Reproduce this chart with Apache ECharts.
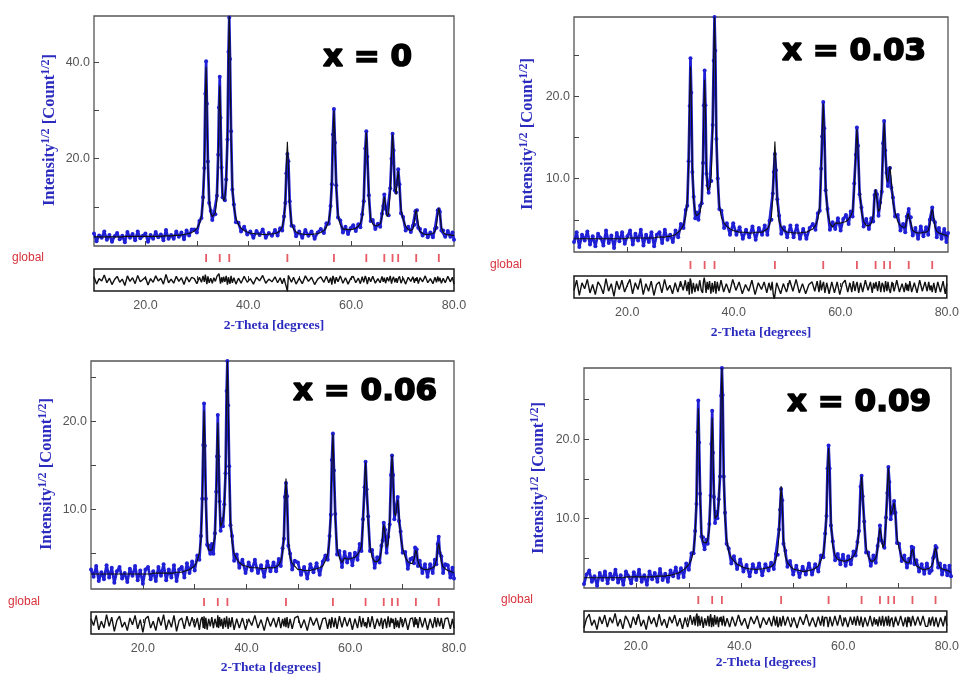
<!DOCTYPE html>
<html>
<head>
<meta charset="utf-8">
<title>Rietveld refinement – Zn(1-x) doped series</title>
<script src="https://cdn.jsdelivr.net/npm/echarts@6/dist/echarts.min.js"></script>
<style>
  html, body { margin: 0; padding: 0; background: #ffffff; }
  #chart { width: 962px; height: 676px; }
</style>
</head>
<body>
<div id="chart"></div>
<script>
// 2-theta sampling grid (degrees), finer across the reflections
const twoTheta = [
  10, 10.5, 11, 11.5, 12, 12.5, 13, 13.5, 14, 14.5, 15, 15.5, 16, 16.5, 17, 17.5, 18, 18.5, 19, 19.5,
  20, 20.5, 21, 21.5, 22, 22.5, 23, 23.5, 24, 24.5, 25, 25.5, 26, 26.5, 27, 27.5, 28, 28.5, 29,
  29.5, 30, 30.5, 30.9, 31.2, 31.45, 31.65, 31.8, 31.95, 32.15, 32.4, 32.7, 33, 33.3, 33.6, 33.9, 34.15, 34.3,
  34.45, 34.6, 34.8, 35, 35.2, 35.45, 35.7, 35.95, 36.15, 36.3, 36.45, 36.65, 36.9, 37.2, 37.6, 38.1, 38.6,
  39.2, 39.8, 40.4, 41, 41.6, 42.2, 42.8, 43.4, 44, 44.6, 45.2,
  45.7, 46.2, 46.6, 46.95, 47.2, 47.4, 47.6, 47.8, 48.05, 48.4, 48.8, 49.3,
  49.9, 50.5, 51.1, 51.7, 52.3, 52.9, 53.5, 54.1, 54.7,
  55.2, 55.65, 56, 56.25, 56.45, 56.65, 56.85, 57.1, 57.45, 57.9, 58.4,
  58.9, 59.4, 59.9, 60.4, 60.9, 61.4, 61.8,
  62.15, 62.45, 62.75, 62.95, 63.15, 63.45, 63.8, 64.2, 64.7, 65.2,
  65.65, 66, 66.25, 66.45, 66.7, 67, 67.3, 67.6, 67.85, 68.05, 68.25, 68.5, 68.75, 68.95, 69.15, 69.4, 69.7, 70.1, 70.6, 71.1, 71.6,
  72, 72.3, 72.5, 72.65, 72.8, 73.05, 73.4, 73.9,
  74.4, 74.9, 75.4, 75.9,
  76.3, 76.6, 76.85, 77.05, 77.25, 77.55, 77.9, 78.3,
  78.8, 79.3, 79.7, 80
];

// Bragg reflection positions of the refined phase
const reflections = [31.8, 34.45, 36.3, 47.6, 56.65, 62.95, 66.45, 68.05, 69.15, 72.65, 77.05];

const compositions = ['x = 0', 'x = 0.03', 'x = 0.06', 'x = 0.09'];

// Intensity^1/2 : observed points and calculated profile, x = 0
const obsX0 = [
  4.5, 2.9, 4.1, 3.6, 4.9, 3.2, 4.2, 2.8, 3.9, 4.6, 3.3, 4.0, 2.7, 4.8, 3.6, 4.4, 3.1, 4.9, 3.5, 4.0,
  4.5, 2.8, 4.2, 3.4, 4.8, 3.7, 4.3, 3.1, 5.2, 3.4, 4.2, 3.4, 4.9, 3.8, 4.7, 3.3, 5.1, 4.1, 5.3,
  5.3, 4.7, 7.1, 7.7, 12.0, 18.1, 33.5, 40.2, 31.4, 19.4, 10.8, 9.2, 7.3, 8.5, 8.5, 12.3, 20.8, 30.6,
  37.0, 28.5, 18.2, 12.0, 12.0, 11.4, 15.7, 24.0, 42.2, 49.3, 40.7, 25.7, 13.6, 10.5, 6.8, 6.7, 4.9,
  5.9, 4.3, 4.9, 3.6, 5.0, 4.2, 5.3, 3.6, 4.6, 4.0, 5.2,
  4.1, 5.6, 5.1, 8.0, 10.8, 17.0, 21.0, 19.5, 11.2, 6.1, 6.0, 3.9,
  4.9, 3.6, 5.2, 4.0, 4.9, 3.4, 4.7, 5.4, 4.6,
  6.6, 6.5, 10.2, 14.7, 25.0, 30.3, 23.3, 14.5, 7.8, 7.2, 4.7,
  5.9, 4.4, 5.6, 6.2, 5.0, 6.4, 5.8,
  8.5, 11.2, 22.1, 25.7, 20.4, 12.4, 7.1, 7.3, 5.4, 6.5,
  5.9, 8.6, 10.2, 12.6, 9.6, 8.6, 8.3, 13.9, 20.0, 25.2, 21.7, 13.4, 13.0, 14.9, 17.8, 14.7, 8.7, 7.9, 5.1, 5.9, 4.8,
  6.1, 6.3, 9.1, 9.2, 9.3, 5.7, 5.4, 4.1,
  5.2, 3.7, 4.7, 3.7,
  5.5, 5.7, 9.3, 9.5, 9.0, 5.1, 5.1, 3.8,
  5.0, 3.8, 4.7, 3.2
];
const calcX0 = [
  3.8, 3.8, 3.8, 3.8, 3.8, 3.8, 3.8, 3.8, 3.8, 3.8, 3.8, 3.8, 3.9, 3.9, 3.9, 3.9, 3.9, 3.9, 3.9, 3.9,
  3.9, 3.9, 3.9, 3.9, 3.9, 3.9, 3.9, 4.0, 4.0, 4.0, 4.0, 4.1, 4.1, 4.1, 4.2, 4.3, 4.4, 4.5, 4.7,
  5.0, 5.5, 6.5, 8.2, 11.1, 18.5, 32.3, 39.0, 32.3, 18.6, 11.4, 8.8, 8.0, 8.0, 8.8, 11.5, 19.8, 29.2,
  35.2, 29.3, 17.6, 12.5, 11.3, 11.8, 14.8, 25.0, 41.6, 49.6, 41.5, 24.8, 14.2, 10.0, 7.7, 6.3, 5.6,
  5.1, 4.8, 4.6, 4.5, 4.4, 4.4, 4.3, 4.3, 4.4, 4.4, 4.5,
  4.7, 5.1, 5.9, 7.6, 11.5, 18.5, 23.5, 18.5, 10.4, 6.6, 5.4, 4.8,
  4.5, 4.4, 4.3, 4.3, 4.3, 4.4, 4.5, 4.7, 5.1,
  5.8, 7.1, 9.7, 15.7, 24.1, 30.0, 24.1, 13.9, 8.2, 6.3, 5.4,
  5.4, 5.3, 5.3, 5.4, 5.6, 6.0, 6.6,
  7.8, 11.7, 21.2, 25.5, 21.3, 11.8, 7.5, 6.5, 6.1, 6.2,
  6.5, 7.8, 10.6, 12.1, 10.3, 8.0, 8.6, 13.0, 20.8, 25.0, 21.0, 13.9, 12.6, 15.5, 17.5, 13.9, 9.4, 7.4, 6.0, 5.3, 5.1,
  5.4, 6.9, 8.7, 9.4, 8.7, 6.5, 4.9, 4.5,
  4.3, 4.3, 4.4, 4.5,
  4.9, 6.2, 8.5, 9.8, 8.5, 5.8, 4.7, 4.4,
  4.2, 4.2, 4.1, 4.1
];

// x = 0.03
const obsX003 = [
  2.3, 3.5, 1.7, 3.2, 2.5, 3.6, 2.0, 3.0, 1.8, 3.3, 2.8, 1.9, 3.7, 2.2, 3.1, 1.6, 3.4, 2.4, 3.5, 2.1,
  3.0, 3.7, 2.0, 3.3, 2.5, 3.8, 1.9, 3.2, 2.3, 3.5, 1.8, 3.2, 3.5, 2.2, 3.8, 2.6, 3.2, 2.3, 3.7,
  2.9, 4.5, 4.0, 6.2, 6.7, 12.1, 18.8, 24.6, 20.4, 10.8, 7.8, 5.2, 5.9, 5.0, 6.7, 7.0, 11.9, 18.9,
  23.1, 18.9, 10.6, 9.2, 8.3, 9.7, 9.7, 16.5, 24.3, 29.6, 25.5, 14.8, 10.0, 6.3, 6.1, 4.0, 4.6,
  3.2, 4.6, 3.2, 4.1, 2.7, 3.8, 2.9, 4.2, 2.6, 4.0, 3.2,
  4.3, 3.2, 4.9, 5.0, 8.2, 10.8, 13.0, 11.0, 7.5, 5.5, 3.3, 4.1,
  2.9, 4.3, 2.9, 4.3, 2.7, 3.9, 2.7, 4.0, 4.5,
  3.8, 5.8, 6.1, 11.2, 15.1, 19.3, 16.1, 8.6, 6.3, 3.8, 4.7,
  3.9, 5.2, 3.7, 5.1, 5.6, 4.5, 6.0,
  5.4, 9.4, 12.9, 16.2, 14.0, 8.1, 6.5, 4.2, 5.1, 3.9,
  5.2, 4.8, 8.0, 8.5, 8.1, 5.5, 7.1, 8.4, 14.3, 17.0, 13.4, 10.7, 9.1, 11.2, 11.3, 8.9, 7.7, 5.4, 5.6, 3.7, 4.5,
  3.5, 5.4, 5.4, 6.3, 5.3, 5.3, 3.1, 4.0,
  2.7, 4.2, 3.0, 4.1,
  3.2, 5.0, 5.2, 6.5, 5.0, 4.7, 2.9, 4.0,
  2.7, 3.9, 2.3, 3.4
];
const calcX003 = [
  2.7, 2.7, 2.7, 2.7, 2.7, 2.7, 2.7, 2.7, 2.7, 2.7, 2.7, 2.7, 2.7, 2.7, 2.7, 2.7, 2.7, 2.7, 2.7, 2.7,
  2.8, 2.8, 2.8, 2.8, 2.8, 2.8, 2.8, 2.8, 2.8, 2.8, 2.8, 2.9, 2.9, 2.9, 2.9, 3.0, 3.0, 3.1, 3.2,
  3.5, 3.8, 4.4, 5.4, 7.2, 11.5, 19.7, 23.6, 19.7, 11.6, 7.3, 5.8, 5.5, 5.5, 5.9, 7.4, 12.6, 18.3,
  22.0, 18.4, 11.3, 8.6, 8.6, 9.0, 10.5, 16.0, 24.9, 29.6, 24.8, 15.6, 9.4, 6.8, 5.3, 4.6, 4.2,
  3.9, 3.7, 3.6, 3.5, 3.5, 3.5, 3.4, 3.4, 3.5, 3.5, 3.5,
  3.7, 3.9, 4.4, 5.4, 7.6, 11.6, 14.5, 11.6, 7.0, 4.8, 4.1, 3.7,
  3.5, 3.5, 3.4, 3.4, 3.4, 3.5, 3.5, 3.7, 3.9,
  4.3, 5.1, 6.7, 10.4, 15.5, 19.1, 15.5, 9.3, 5.8, 4.6, 4.1,
  4.6, 4.6, 4.6, 4.7, 4.8, 5.1, 5.5,
  6.0, 8.7, 13.4, 16.0, 13.4, 8.8, 6.0, 4.8, 4.3, 4.3,
  4.6, 5.5, 7.5, 8.7, 7.5, 6.0, 6.4, 9.0, 13.8, 16.8, 14.0, 10.0, 9.6, 10.6, 11.5, 9.6, 7.1, 5.9, 4.8, 4.3, 4.1,
  4.1, 4.9, 5.8, 6.0, 5.8, 4.6, 3.7, 3.5,
  3.4, 3.4, 3.5, 3.5,
  3.7, 4.4, 5.6, 6.3, 5.6, 4.2, 3.6, 3.4,
  3.3, 3.2, 3.1, 3.0
];

// x = 0.06
const obsX006 = [
  3.2, 2.4, 3.6, 1.9, 2.9, 2.1, 3.7, 2.3, 3.4, 1.7, 3.0, 3.5, 2.2, 2.8, 1.8, 3.3, 2.5, 3.6, 2.0, 3.1,
  1.6, 3.2, 3.5, 2.1, 3.0, 1.9, 3.5, 2.5, 3.8, 2.0, 3.2, 2.3, 3.7, 1.9, 3.2, 3.5, 2.3, 3.9, 2.8,
  4.1, 3.1, 4.8, 4.3, 7.0, 11.2, 17.3, 22.0, 17.2, 11.2, 6.0, 5.9, 5.0, 6.1, 5.0, 7.3, 12.0, 16.0,
  20.7, 16.0, 10.9, 7.6, 8.9, 8.1, 10.6, 14.1, 23.4, 26.8, 21.8, 14.9, 8.2, 7.0, 4.2, 4.9, 3.4,
  4.3, 2.8, 4.0, 3.1, 4.3, 2.8, 3.7, 2.4, 4.1, 3.0, 4.0,
  3.0, 4.4, 3.6, 5.6, 6.7, 11.4, 13.0, 11.5, 5.9, 5.0, 3.2, 4.2,
  4.0, 2.6, 3.5, 2.2, 3.8, 2.9, 3.9, 2.6, 4.1,
  4.8, 4.3, 7.0, 9.4, 15.6, 18.6, 14.4, 9.5, 4.9, 5.3, 3.5,
  5.2, 4.0, 5.0, 3.7, 5.1, 4.3, 6.1,
  5.3, 8.9, 12.5, 15.4, 12.3, 9.2, 5.3, 5.4, 3.4, 4.6,
  4.0, 5.9, 6.5, 8.5, 7.7, 5.1, 6.9, 8.3, 13.9, 16.1, 13.9, 8.9, 9.9, 9.8, 11.4, 8.7, 7.5, 5.1, 5.2, 3.3, 4.4,
  4.5, 3.9, 5.7, 5.2, 5.5, 3.6, 4.2, 2.8,
  3.8, 2.4, 3.8, 2.8,
  4.3, 3.8, 6.1, 6.9, 5.1, 4.7, 2.8, 3.8,
  3.7, 2.3, 3.4, 2.2
];
const calcX006 = [
  2.7, 2.7, 2.7, 2.7, 2.7, 2.7, 2.7, 2.7, 2.7, 2.7, 2.7, 2.7, 2.7, 2.7, 2.7, 2.7, 2.7, 2.7, 2.7, 2.7,
  2.7, 2.7, 2.7, 2.7, 2.8, 2.8, 2.8, 2.8, 2.8, 2.8, 2.8, 2.8, 2.8, 2.9, 2.9, 2.9, 3.0, 3.1, 3.2,
  3.4, 3.6, 4.2, 5.1, 6.6, 10.5, 17.9, 21.2, 17.9, 10.6, 6.8, 5.4, 5.4, 5.4, 5.6, 6.8, 11.4, 16.5,
  19.8, 16.6, 10.2, 8.0, 8.4, 8.8, 10.0, 14.6, 22.6, 26.8, 22.5, 14.3, 8.7, 6.3, 5.0, 4.4, 4.0,
  3.7, 3.6, 3.5, 3.4, 3.4, 3.4, 3.3, 3.3, 3.4, 3.4, 3.4,
  3.5, 3.7, 4.2, 5.1, 7.1, 10.8, 13.5, 10.8, 6.5, 4.5, 3.9, 3.6,
  3.2, 3.2, 3.1, 3.1, 3.1, 3.2, 3.3, 3.4, 3.6,
  4.2, 5.0, 6.5, 10.0, 14.9, 18.5, 14.9, 8.9, 5.6, 4.5, 4.0,
  4.5, 4.4, 4.4, 4.5, 4.6, 4.9, 5.3,
  5.8, 8.3, 12.9, 15.3, 12.9, 8.5, 5.8, 4.6, 4.1, 4.1,
  4.4, 5.3, 7.2, 8.3, 7.2, 5.7, 6.1, 8.8, 13.3, 16.1, 13.4, 9.6, 9.3, 10.3, 11.1, 9.3, 6.8, 5.6, 4.6, 4.1, 3.9,
  3.9, 4.4, 5.0, 5.4, 5.0, 4.2, 3.5, 3.3,
  3.2, 3.2, 3.3, 3.4,
  3.6, 4.3, 5.5, 6.2, 5.5, 4.1, 3.5, 3.3,
  3.1, 3.0, 2.9, 2.8
];

// x = 0.09
const obsX009 = [
  1.7, 2.9, 3.4, 2.0, 2.7, 1.5, 3.1, 2.2, 3.3, 1.8, 3.0, 2.3, 3.5, 1.9, 2.8, 1.6, 3.3, 2.7, 1.8, 3.2,
  2.2, 3.5, 2.0, 2.8, 1.6, 3.3, 2.3, 3.1, 2.0, 3.6, 2.2, 3.0, 2.0, 3.4, 2.7, 3.8, 2.5, 3.7, 2.6,
  4.3, 3.5, 5.6, 5.6, 8.4, 11.8, 20.9, 24.9, 19.6, 13.1, 7.7, 7.6, 6.1, 7.3, 6.8, 9.3, 12.9, 19.4,
  23.6, 18.3, 12.7, 9.4, 10.8, 10.0, 12.4, 15.3, 25.5, 29.0, 25.6, 15.3, 10.7, 6.8, 6.2, 4.3, 5.2,
  3.6, 4.8, 3.3, 4.1, 2.7, 4.2, 3.2, 4.3, 2.8, 4.2, 3.4,
  4.4, 3.6, 5.5, 5.4, 8.6, 11.1, 13.7, 12.3, 6.8, 5.9, 3.9, 4.6,
  2.9, 4.0, 2.6, 3.9, 2.9, 4.3, 2.9, 4.2, 3.3,
  5.3, 5.1, 8.1, 10.3, 16.3, 19.2, 16.3, 9.1, 7.1, 4.7, 5.5,
  4.2, 5.4, 4.0, 5.2, 4.2, 5.8, 5.3,
  7.0, 8.4, 14.0, 15.4, 12.8, 9.6, 5.7, 5.7, 4.0, 5.3,
  4.4, 6.5, 7.4, 9.1, 7.2, 6.9, 6.3, 10.1, 13.2, 16.5, 14.6, 9.9, 10.9, 10.7, 12.2, 10.7, 6.9, 6.8, 4.6, 5.3, 3.8,
  4.9, 4.4, 6.4, 6.0, 6.3, 4.2, 4.7, 3.3,
  4.2, 3.0, 4.3, 3.1,
  3.4, 5.0, 5.2, 6.5, 6.3, 3.8, 4.3, 2.9,
  4.0, 2.8, 4.0, 2.7
];
const calcX009 = [
  2.5, 2.5, 2.5, 2.5, 2.5, 2.5, 2.5, 2.5, 2.5, 2.5, 2.5, 2.5, 2.5, 2.5, 2.5, 2.5, 2.6, 2.6, 2.6, 2.6,
  2.6, 2.6, 2.6, 2.6, 2.6, 2.6, 2.6, 2.6, 2.7, 2.7, 2.7, 2.7, 2.8, 2.8, 2.9, 3.0, 3.1, 3.3, 3.5,
  3.8, 4.2, 4.8, 6.0, 7.8, 12.3, 20.2, 23.9, 20.2, 12.4, 8.2, 7.0, 6.9, 6.9, 7.3, 8.6, 13.5, 18.9,
  22.7, 19.0, 12.2, 10.0, 10.0, 10.4, 11.8, 16.0, 25.0, 29.0, 25.0, 15.8, 10.0, 7.4, 5.8, 5.0, 4.6,
  4.2, 4.0, 3.8, 3.7, 3.6, 3.6, 3.5, 3.6, 3.6, 3.7, 3.8,
  3.9, 4.2, 4.8, 5.9, 8.0, 11.8, 14.1, 11.8, 7.4, 5.2, 4.4, 4.0,
  3.6, 3.5, 3.4, 3.3, 3.3, 3.4, 3.5, 3.7, 4.0,
  4.7, 5.6, 7.4, 10.9, 15.8, 18.9, 15.8, 9.8, 6.5, 5.3, 4.8,
  4.7, 4.6, 4.6, 4.7, 4.9, 5.2, 5.7,
  6.4, 8.9, 13.3, 15.3, 13.3, 9.0, 6.4, 5.2, 4.6, 4.6,
  5.0, 6.0, 7.8, 8.8, 7.8, 6.3, 6.8, 9.4, 13.8, 16.4, 14.0, 10.4, 10.2, 11.3, 12.0, 10.2, 7.6, 6.2, 5.1, 4.6, 4.4,
  4.4, 5.1, 5.8, 6.1, 5.8, 4.8, 4.0, 3.8,
  3.6, 3.5, 3.6, 3.7,
  4.0, 4.5, 5.7, 6.3, 5.7, 4.4, 3.8, 3.6,
  3.5, 3.4, 3.3, 3.2
];

// y-axis ticks and labelled values per pattern
const yTickValues  = [[10, 20, 30, 40], [5, 10, 15, 20, 25], [5, 10, 15, 20, 25], [5, 10, 15, 20, 25]];
const yLabelValues = [[20, 40], [10, 20], [10, 20], [10, 20]];
const xTickValues  = [20, 30, 40, 50, 60, 70];
const xLabelValues = [20, 40, 60, 80];

const observed   = [obsX0, obsX003, obsX006, obsX009];
const calculated = [calcX0, calcX003, calcX006, calcX009];

// ---- layout of the four panels (pixels) ----
const frames = [
  { left: 94,  width: 360, top: 16,  height: 230, yMin: 1.9, yMax: 49.6, tickTop: 253, diffTop: 269, diffH: 22, diffR: 2.4,
    xTitle: [274, 326], yTitle: [50, 130],  global: [28, 258],  comp: [323, 58] },
  { left: 574, width: 374, top: 17,  height: 235, yMin: 1.1, yMax: 29.6, tickTop: 260, diffTop: 276, diffH: 22, diffR: 1.3,
    xTitle: [761, 333], yTitle: [528, 134], global: [506, 265], comp: [782, 52] },
  { left: 91,  width: 363, top: 361, height: 228, yMin: 1.0, yMax: 26.8, tickTop: 597, diffTop: 612, diffH: 22, diffR: 1.3,
    xTitle: [271, 668], yTitle: [47, 474],  global: [24, 602],  comp: [293, 392] },
  { left: 584, width: 367, top: 368, height: 220, yMin: 1.2, yMax: 29.0, tickTop: 595, diffTop: 611, diffH: 21, diffR: 1.3,
    xTitle: [766, 663], yTitle: [539, 478], global: [517, 600], comp: [787, 403] }
];

const BLUE = '#1f1fd6';
const TITLE_BLUE = '#2b2bbf';
const LABEL_GREY = '#555555';
const fmt = v => v.toFixed(1);

const grid = [], xAxis = [], yAxis = [], series = [], graphic = [];

frames.forEach((f, i) => {
  const g = i * 3;
  // main pattern, reflection marker row, difference curve
  grid.push({ left: f.left, top: f.top, width: f.width, height: f.height, show: true,
              borderColor: '#555555', borderWidth: 1.3, backgroundColor: 'transparent' });
  grid.push({ left: f.left, top: f.tickTop, width: f.width, height: 10 });
  grid.push({ left: f.left, top: f.diffTop, width: f.width, height: f.diffH, show: true,
              borderColor: '#1a1a1a', borderWidth: 1.5, backgroundColor: 'transparent' });

  xAxis.push({
    gridIndex: g, type: 'value', min: 10, max: 80,
    axisLine: { show: false },
    axisTick: { show: true, inside: true, length: 5, customValues: xTickValues, lineStyle: { color: '#444', width: 1 } },
    axisLabel: { show: false }, splitLine: { show: false }
  });
  xAxis.push({ gridIndex: g + 1, type: 'value', min: 10, max: 80, show: false });
  xAxis.push({
    gridIndex: g + 2, type: 'value', min: 10, max: 80,
    axisLine: { show: false },
    axisTick: { show: true, inside: true, length: 4, customValues: xTickValues, lineStyle: { color: '#333', width: 1 } },
    axisLabel: { show: true, customValues: xLabelValues, formatter: fmt, color: LABEL_GREY,
                 fontSize: 12.5, fontFamily: 'Liberation Sans', margin: 8 },
    splitLine: { show: false }
  });

  yAxis.push({
    gridIndex: g, type: 'value', min: f.yMin, max: f.yMax,
    axisLine: { show: false },
    axisTick: { show: true, inside: true, length: 5, customValues: yTickValues[i], lineStyle: { color: '#444', width: 1 } },
    axisLabel: { show: true, customValues: yLabelValues[i], formatter: fmt, color: LABEL_GREY,
                 fontSize: 12.5, fontFamily: 'Liberation Sans', margin: 4 },
    splitLine: { show: false }
  });
  yAxis.push({ gridIndex: g + 1, type: 'value', min: -1, max: 1, show: false });
  yAxis.push({ gridIndex: g + 2, type: 'value', min: -f.diffR, max: f.diffR, show: false });

  const obs = observed[i], calc = calculated[i];
  // observed counts: a heavy blue trace with a dot on every measured point
  series.push({
    type: 'line', xAxisIndex: g, yAxisIndex: g, silent: true, z: 2,
    showSymbol: true, symbol: 'circle', symbolSize: 4,
    itemStyle: { color: BLUE, borderWidth: 0 },
    lineStyle: { color: BLUE, width: 2.7 },
    data: twoTheta.map((t, k) => [t, obs[k]])
  });
  // calculated profile
  series.push({
    type: 'line', xAxisIndex: g, yAxisIndex: g, showSymbol: false, silent: true, z: 3,
    lineStyle: { color: '#101010', width: 1.1 },
    data: twoTheta.map((t, k) => [t, calc[k]])
  });
  // reflection markers
  series.push({
    type: 'scatter', xAxisIndex: g + 1, yAxisIndex: g + 1, symbol: 'rect', symbolSize: [1.8, 8],
    itemStyle: { color: '#e0323e' }, silent: true,
    data: reflections.map(r => [r, 0])
  });
  // difference curve (observed minus calculated)
  series.push({
    type: 'line', xAxisIndex: g + 2, yAxisIndex: g + 2, showSymbol: false, silent: true,
    lineStyle: { color: '#111', width: 1.4 },
    data: twoTheta.map((t, k) => [t, obs[k] - calc[k]])
  });

  // axis titles, phase tag and composition
  graphic.push({
    type: 'text', x: f.xTitle[0], y: f.xTitle[1], silent: true,
    style: { text: '2-Theta [degrees]', fill: TITLE_BLUE, fontSize: 13.5, fontWeight: 'bold',
             fontFamily: 'Liberation Serif', align: 'center', verticalAlign: 'middle' }
  });
  graphic.push({
    type: 'text', x: f.yTitle[0], y: f.yTitle[1], rotation: Math.PI / 2, silent: true,
    style: {
      text: '{m|Intensity}{s|1/2}{m| [Count}{s|1/2}{m|]}',
      align: 'center', verticalAlign: 'middle',
      rich: {
        m: { fill: TITLE_BLUE, fontSize: 16.5, fontWeight: 'bold', fontFamily: 'Liberation Serif', lineHeight: 21 },
        s: { fill: TITLE_BLUE, fontSize: 12, fontWeight: 'bold', fontFamily: 'Liberation Serif', lineHeight: 12, verticalAlign: 'top' }
      }
    }
  });
  graphic.push({
    type: 'text', x: f.global[0], y: f.global[1], silent: true,
    style: { text: 'global', fill: '#d8323c', fontSize: 12, fontFamily: 'Liberation Sans',
             align: 'center', verticalAlign: 'middle' }
  });
  graphic.push({
    type: 'text', x: f.comp[0], y: f.comp[1], silent: true,
    style: { text: compositions[i], fill: '#000', fontSize: 31, fontWeight: 'bold',
             fontFamily: 'DejaVu Sans', align: 'left', verticalAlign: 'middle',
             stroke: '#000', lineWidth: 1.6 }
  });
});

const chart = echarts.init(document.getElementById('chart'), null, { renderer: 'canvas' });
chart.setOption({
  animation: false,
  backgroundColor: '#ffffff',
  grid, xAxis, yAxis, series, graphic
});
</script>
</body>
</html>
